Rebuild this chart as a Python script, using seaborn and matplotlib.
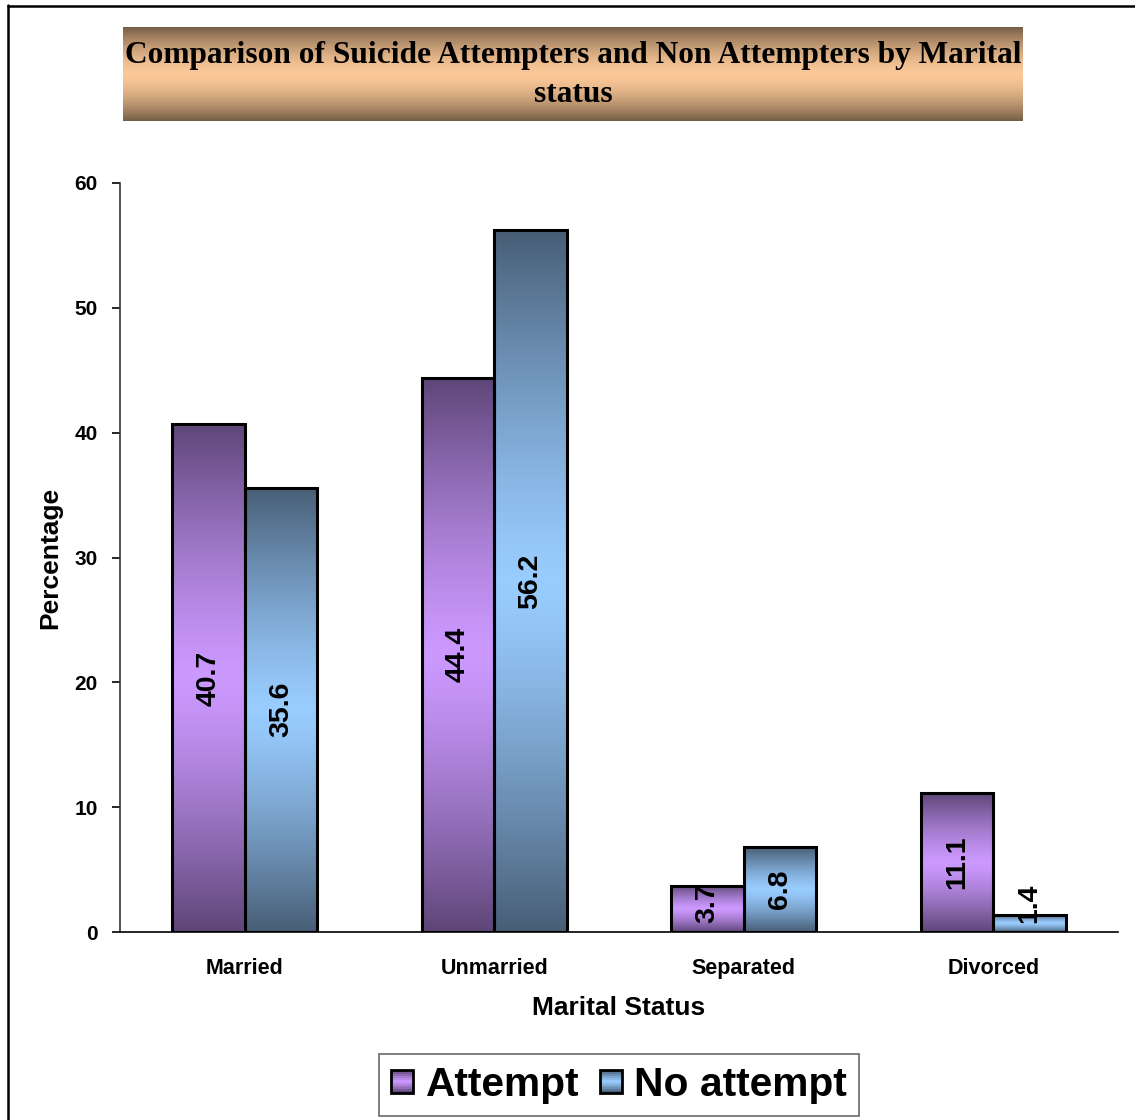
import numpy as np
import pandas as pd
import matplotlib
matplotlib.use("Agg")
import matplotlib.pyplot as plt
import seaborn as sns
from matplotlib.patches import Patch, Rectangle
from matplotlib.lines import Line2D
from matplotlib.legend_handler import HandlerBase

# ---- data ----
categories = ["Married", "Unmarried", "Separated", "Divorced"]
attempt = [40.7, 44.4, 3.7, 11.1]
no_attempt = [35.6, 56.2, 6.8, 1.4]
groups = ["Attempt", "No attempt"]
y_ticks = [0, 10, 20, 30, 40, 50, 60]

df = pd.DataFrame({
    "status": categories * 2,
    "pct": attempt + no_attempt,
    "group": [groups[0]] * 4 + [groups[1]] * 4,
})

sns.set_style("white")
plt.rcParams["font.family"] = ["Liberation Sans", "DejaVu Sans"]
plt.rcParams["text.color"] = "black"
plt.rcParams["axes.labelcolor"] = "black"
plt.rcParams["xtick.color"] = "black"
plt.rcParams["ytick.color"] = "black"

W, H = 1135, 1120
fig = plt.figure(figsize=(W / 100, H / 100), dpi=100)
fig.patch.set_facecolor("white")

ax_l, ax_r, ax_b, ax_t = 120, 1118, 932, 183
ax = fig.add_axes([ax_l / W, 1 - ax_b / H, (ax_r - ax_l) / W, (ax_b - ax_t) / H])

light = {"Attempt": np.array([204, 153, 255]) / 255, "No attempt": np.array([153, 204, 255]) / 255}
dark = {"Attempt": np.array([94, 70, 120]) / 255, "No attempt": np.array([72, 94, 118]) / 255}
pal = {g: light[g] for g in groups}

sns.barplot(data=df, x="status", y="pct", hue="group", order=categories,
            hue_order=groups, palette=pal, width=0.58, edgecolor="black",
            linewidth=2.2, ax=ax, legend=False, saturation=1)


def grad(c_light, c_dark, n=256, power=1.0):
    t = np.abs(np.linspace(-1, 1, n)) ** power
    arr = c_light[None, :] * (1 - t[:, None]) + c_dark[None, :] * t[:, None]
    return arr[:, None, :]


for g, cont in zip(groups, ax.containers):
    img = grad(light[g], dark[g], power=1.3)
    for bar in cont:
        x0, y0 = bar.get_x(), bar.get_y()
        w, h = bar.get_width(), bar.get_height()
        im = ax.imshow(img, extent=[x0, x0 + w, y0, y0 + h], aspect="auto",
                       origin="lower", zorder=bar.get_zorder() - 0.1,
                       interpolation="bilinear")
        im.set_clip_path(bar)
        bar.set_facecolor("none")
        ax.text(x0 + w / 2, max(h / 2, 2.3), f"{h:.1f}", rotation=90,
                ha="center", va="center", fontsize=20.5, fontweight="bold",
                color="black", zorder=5)

ax.set_xlim(-0.5, 3.5)
ax.set_ylim(0, 60)
ax.set_yticks(y_ticks)
ax.set_yticklabels([str(t) for t in y_ticks], fontsize=15, fontweight="bold")
ax.set_xticks(range(4))
ax.set_xticklabels(categories, fontsize=15.5, fontweight="bold")
ax.set_xticks([-0.5, 0.5, 1.5, 2.5, 3.5], minor=True)
ax.tick_params(axis="x", which="major", length=0, pad=19)
ax.tick_params(axis="x", which="minor", length=7, width=1.2, color="#555555", direction="out")
ax.tick_params(axis="y", which="major", length=6, width=1.2, color="black", direction="out", pad=10, left=True)

for s in ["top", "right"]:
    ax.spines[s].set_visible(False)
ax.spines["left"].set_color("#333333")
ax.spines["bottom"].set_color("black")
ax.spines["left"].set_linewidth(1.2)
ax.spines["bottom"].set_linewidth(1.2)
ax.grid(False)

ax.set_xlabel("Marital Status", fontsize=19, fontweight="bold")
ax.set_ylabel("Percentage", fontsize=19, fontweight="bold")
ax.xaxis.set_label_coords(0.5, (ax_b - 1008) / (ax_b - ax_t))
ax.xaxis.label.set_va("center")
ax.yaxis.set_label_coords((50 - ax_l) / (ax_r - ax_l), 0.5)
ax.yaxis.label.set_va("center")
ax.yaxis.label.set_ha("center")

# ---- title box ----
tb_l, tb_r, tb_t, tb_b = 123, 1023, 27, 121
tax = fig.add_axes([tb_l / W, 1 - tb_b / H, (tb_r - tb_l) / W, (tb_b - tb_t) / H])
tax.imshow(grad(np.array([251, 200, 152]) / 255, np.array([118, 94, 70]) / 255, power=1.6),
           extent=[0, 1, 0, 1], aspect="auto", origin="lower", interpolation="bilinear")
tax.set_xlim(0, 1)
tax.set_ylim(0, 1)
tax.axis("off")
title_font = ["Liberation Serif", "DejaVu Serif"]
tax.text(0.5, (tb_b - 56) / (tb_b - tb_t), "Comparison of Suicide Attempters and Non Attempters by Marital",
         ha="center", va="center", fontsize=22.6, fontweight="bold", family=title_font, color="black")
tax.text(0.5, (tb_b - 95) / (tb_b - tb_t), "status",
         ha="center", va="center", fontsize=22.6, fontweight="bold", family=title_font, color="black")


# ---- legend with gradient squares ----
class GradHandler(HandlerBase):
    def __init__(self, c_light, c_dark, n=12):
        super().__init__()
        self.cl, self.cd, self.n = c_light, c_dark, n

    def create_artists(self, legend, orig_handle, xdescent, ydescent, width, height, fontsize, trans):
        arts = []
        side = min(width, height)
        x0 = -xdescent + (width - side) / 2
        y0 = -ydescent + (height - side) / 2
        cols = grad(self.cl, self.cd, n=self.n, power=1.3)[:, 0, :]
        for i in range(self.n):
            arts.append(Rectangle((x0, y0 + side * i / self.n), side, side / self.n + 0.3,
                                  facecolor=cols[i], edgecolor="none", transform=trans))
        arts.append(Rectangle((x0, y0), side, side, facecolor="none", edgecolor="black",
                              linewidth=2, transform=trans))
        return arts


handles = [Patch(facecolor=light[g], edgecolor="black", linewidth=2) for g in groups]
leg = fig.legend(handles, groups, loc="center", bbox_to_anchor=(619 / W, 1 - 1085 / H),
                 ncol=2, frameon=True, fancybox=False, prop={"weight": "bold", "size": 29.3},
                 handlelength=0.55, handleheight=0.55, handletextpad=0.3, columnspacing=0.5,
                 borderpad=0.3, borderaxespad=0,
                 handler_map={handles[i]: GradHandler(light[g], dark[g]) for i, g in enumerate(groups)})
leg.get_frame().set_edgecolor("#444444")
leg.get_frame().set_linewidth(1.2)
for t in leg.get_texts():
    t.set_color("black")

# ---- outer frame ----
fig.add_artist(Line2D([7.5 / W, 7.5 / W], [1 - 5 / H, 0], transform=fig.transFigure, color="black", lw=1.8))
fig.add_artist(Line2D([7.5 / W, 1], [1 - 5.5 / H, 1 - 5.5 / H], transform=fig.transFigure, color="black", lw=1.8))

fig.savefig("out.png", dpi=100)
